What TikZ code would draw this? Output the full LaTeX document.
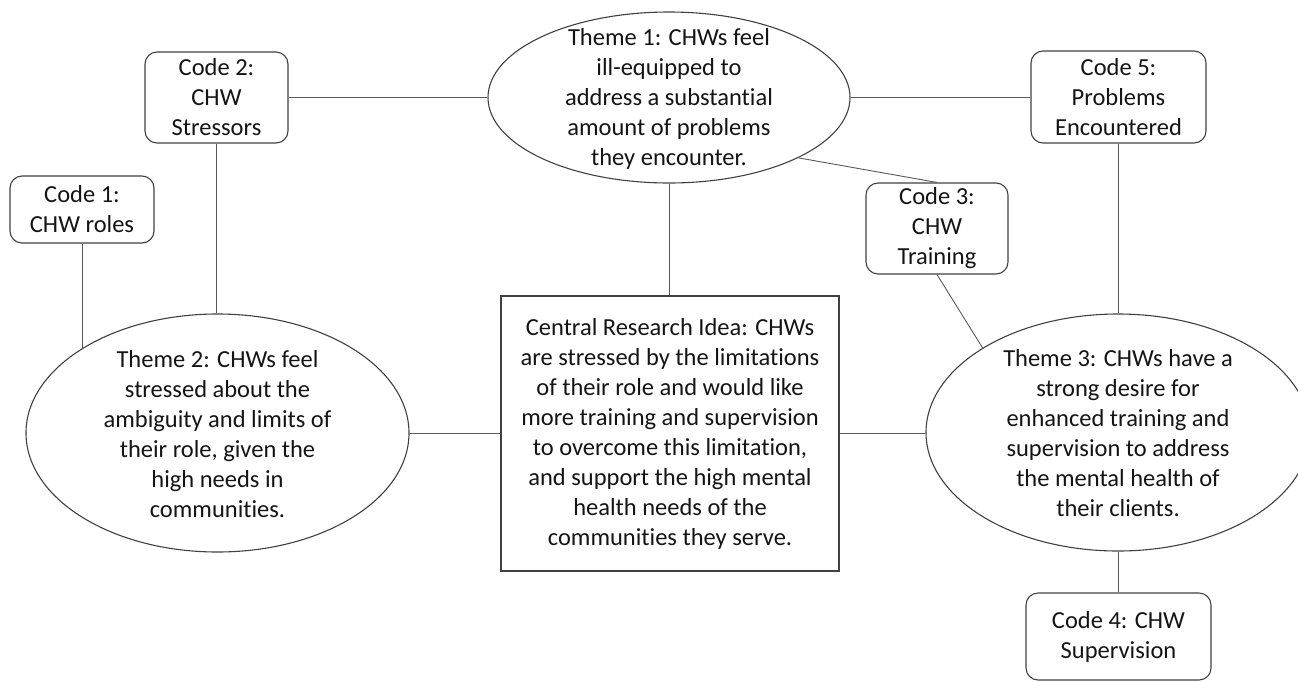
\documentclass[tikz,border=0pt]{standalone}
\usepackage{fontspec}
\setmainfont{Carlito}[Ligatures=NoCommon]
\usetikzlibrary{shapes.geometric,calc}
\begin{document}
\begin{tikzpicture}[x=1pt,y=-1pt,
  every node/.style={font=\fontsize{24.5}{30}\selectfont, text=black!92},
  codebox/.style={draw=black!75, line width=1.1pt, rounded corners=12pt,
    inner sep=0pt, align=center},
  theme/.style={draw=black!75, line width=1.1pt, ellipse, inner sep=0pt},
  idea/.style={draw=black!75, line width=1.1pt, rectangle, inner sep=0pt,
    align=center},
  link/.style={draw=black!65, line width=0.9pt},
  words/.style={align=center, inner sep=0pt}
]
\useasboundingbox (0,0) rectangle (1298,681);

% code boxes
\node[codebox, minimum width=144pt, minimum height=67pt] (c1) at (82,209.5)
  {Code 1:\\CHW roles};
\node[codebox, minimum width=143pt, minimum height=91pt] (c2) at (216.5,97.5)
  {Code 2:\\CHW\\Stressors};
\node[codebox, minimum width=142pt, minimum height=91pt] (c3) at (937,228.5)
  {Code 3:\\CHW\\Training};
\node[codebox, minimum width=175pt, minimum height=92pt] (c5) at (1118.5,97)
  {Code 5:\\Problems\\Encountered};
\node[codebox, minimum width=185pt, minimum height=87pt] (c4) at (1118.5,636.5)
  {Code 4: CHW\\Supervision};

% theme ellipses
\node[theme, minimum width=362pt, minimum height=171pt] (t1) at (669,97.5) {};
\node[words] (t1text) at (669,99)
  {Theme 1: CHWs feel\\ill-equipped to\\address a substantial\\amount of problems\\they encounter.};
\node[theme, minimum width=383pt, minimum height=238pt] (t2) at (217.5,433) {};
\node[words] (t2text) at (217.5,434)
  {Theme 2: CHWs feel\\stressed about the\\ambiguity and limits of\\their role, given the\\high needs in\\communities.};
\node[theme, minimum width=384pt, minimum height=237pt] (t3) at (1118,432.5) {};
\node[words] (t3text) at (1118,433.5)
  {Theme 3: CHWs have a\\strong desire for\\enhanced training and\\supervision to address\\the mental health of\\their clients.};

% central idea
\node[idea, minimum width=338pt, minimum height=275pt] (cri) at (670,433.5)
  {Central Research Idea: CHWs\\are stressed by the limitations\\of their role and would like\\more training and supervision\\to overcome this limitation,\\and support the high mental\\health needs of the\\communities they serve.};

% connectors
\draw[link] (c2.east) -- (c2.east -| t1.west);
\draw[link] (t1.east |- c5.west) -- (c5.west);
\draw[link] (c2.south) -- (c2.south |- t2.north);
\draw[link] (c1.south) -- (c1.south |- t2.148.2);
\draw[link] (t1.south) -- (t1.south |- cri.north);
\draw[link] (t1.-25.1) -- (c3.north);
\draw[link] (c3.south) -- (t3.148.1);
\draw[link] (t2.east) -- (t2.east -| cri.west);
\draw[link] (cri.east) -- (cri.east -| t3.west);
\draw[link] (c5.south) -- (c5.south |- t3.north);
\draw[link] (t3.south) -- (t3.south |- c4.north);
\end{tikzpicture}
\end{document}
